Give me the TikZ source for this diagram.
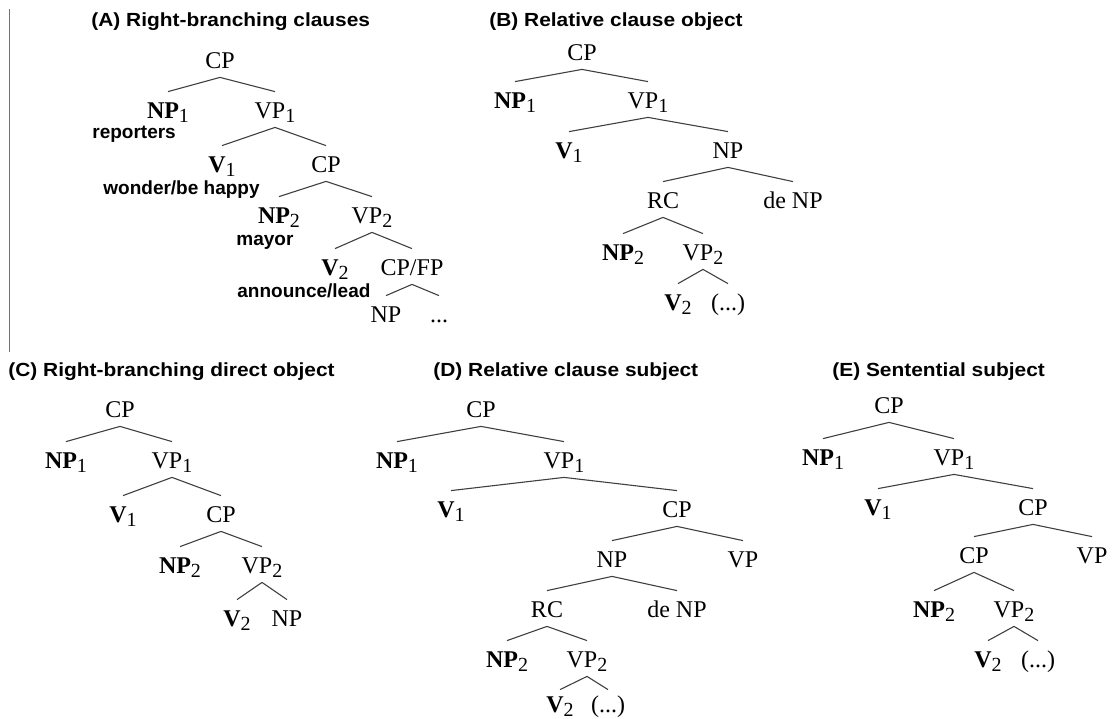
\documentclass[tikz,border=0pt]{standalone}
\usepackage{fontspec}
\setmainfont{Liberation Serif}
\newfontfamily\ttlfont[FakeStretch=1.1]{Liberation Sans}
\newfontfamily\glsfont{Liberation Sans}
\newcommand{\lsub}[1]{\raisebox{-2pt}{\fontsize{10}{10}\selectfont #1}}

\tikzset{
  cat/.style={anchor=base, font=\fontsize{12}{14}\selectfont, inner sep=2.5pt, text height=10.5pt, text depth=2pt},
  gloss/.style={anchor=base west, inner sep=0pt, font=\glsfont\bfseries\fontsize{9.5}{11}\selectfont},
  ttl/.style={anchor=base west, inner sep=0pt, font=\ttlfont\bfseries\fontsize{9.5}{11}\selectfont},
  branch/.style={draw=black!75, line width=0.55pt}
}

\begin{document}
\begin{tikzpicture}[x=0.5pt, y=-0.5pt]

 \useasboundingbox (0,0) rectangle (1114,718);

 %%%  titles
 \node [ttl] (ta) at (91,26) {(A) Right-branching clauses};
 \node [ttl] (tb) at (489,26) {(B) Relative clause object};
 \node [ttl] (tc) at (8,376) {(C) Right-branching direct object};
 \node [ttl] (td) at (433,376) {(D) Relative clause subject};
 \node [ttl] (te) at (832,376) {(E) Sentential subject};

 % rule at the left of panel A
 \coordinate (rtop) at (9.5,9);
 \coordinate (rbot) at (9.5,352);
 \draw [black!55, line width=0.6pt] (rtop) to (rbot);

 %%%  panel A
 \node [cat] (acp) at (220,68) {CP};
 \node [cat] (anp1) at (168,118) {\textbf{NP}\lsub{1}};
 \node [cat] (avp1) at (275,118) {VP\lsub{1}};
 \node [cat] (av1) at (222,172) {\textbf{V}\lsub{1}};
 \node [cat] (acp2) at (326,172) {CP};
 \node [cat] (anp2) at (279,223) {\textbf{NP}\lsub{2}};
 \node [cat] (avp2) at (372,223) {VP\lsub{2}};
 \node [cat] (av2) at (335,275) {\textbf{V}\lsub{2}};
 \node [cat] (acpfp) at (412,275) {CP/FP};
 \node [cat] (anp3) at (386,322) {NP};
 \node [cat] (adots) at (439,322) {...};

 % glosses
 \node [gloss] (greporters) at (92,138) {reporters};
 \node [gloss] (gwonder) at (103,194) {wonder/be happy};
 \node [gloss] (gmayor) at (236,245) {mayor};
 \node [gloss] (gannounce) at (237,297) {announce/lead};

 \draw [branch] (acp.south) to (anp1.north);
 \draw [branch] (acp.south) to (avp1.north);
 \draw [branch] (avp1.south) to (av1.north);
 \draw [branch] (avp1.south) to (acp2.north);
 \draw [branch] (acp2.south) to (anp2.north);
 \draw [branch] (acp2.south) to (avp2.north);
 \draw [branch] (avp2.south) to (av2.north);
 \draw [branch] (avp2.south) to (acpfp.north);
 \draw [branch] (acpfp.south) to (anp3.north);
 \draw [branch] (acpfp.south) to (adots.north);

 %%%  panel B
 \node [cat] (bcp) at (582,60) {CP};
 \node [cat] (bnp1) at (515,108) {\textbf{NP}\lsub{1}};
 \node [cat] (bvp1) at (648,108) {VP\lsub{1}};
 \node [cat] (bv1) at (569,158) {\textbf{V}\lsub{1}};
 \node [cat] (bnp) at (728,158) {NP};
 \node [cat] (brc) at (663,208) {RC};
 \node [cat] (bdenp) at (793,208) {de NP};
 \node [cat] (bnp2) at (623,260) {\textbf{NP}\lsub{2}};
 \node [cat] (bvp2) at (703,260) {VP\lsub{2}};
 \node [cat] (bv2) at (678,310) {\textbf{V}\lsub{2}};
 \node [cat] (bdots) at (728,310) {(...)};

 \draw [branch] (bcp.south) to (bnp1.north);
 \draw [branch] (bcp.south) to (bvp1.north);
 \draw [branch] (bvp1.south) to (bv1.north);
 \draw [branch] (bvp1.south) to (bnp.north);
 \draw [branch] (bnp.south) to (brc.north);
 \draw [branch] (bnp.south) to (bdenp.north);
 \draw [branch] (brc.south) to (bnp2.north);
 \draw [branch] (brc.south) to (bvp2.north);
 \draw [branch] (bvp2.south) to (bv2.north);
 \draw [branch] (bvp2.south) to (bdots.north);

 %%%  panel C
 \node [cat] (ccp) at (120,417) {CP};
 \node [cat] (cnp1) at (66,468) {\textbf{NP}\lsub{1}};
 \node [cat] (cvp1) at (172,468) {VP\lsub{1}};
 \node [cat] (cv1) at (123,522) {\textbf{V}\lsub{1}};
 \node [cat] (ccp2) at (221,522) {CP};
 \node [cat] (cnp2) at (180,573) {\textbf{NP}\lsub{2}};
 \node [cat] (cvp2) at (262,573) {VP\lsub{2}};
 \node [cat] (cv2) at (237,626) {\textbf{V}\lsub{2}};
 \node [cat] (cnp3) at (287,626) {NP};

 \draw [branch] (ccp.south) to (cnp1.north);
 \draw [branch] (ccp.south) to (cvp1.north);
 \draw [branch] (cvp1.south) to (cv1.north);
 \draw [branch] (cvp1.south) to (ccp2.north);
 \draw [branch] (ccp2.south) to (cnp2.north);
 \draw [branch] (ccp2.south) to (cvp2.north);
 \draw [branch] (cvp2.south) to (cv2.north);
 \draw [branch] (cvp2.south) to (cnp3.north);

 %%%  panel D
 \node [cat] (dcp) at (481,417) {CP};
 \node [cat] (dnp1) at (397,468) {\textbf{NP}\lsub{1}};
 \node [cat] (dvp1) at (564,468) {VP\lsub{1}};
 \node [cat] (dv1) at (451,517) {\textbf{V}\lsub{1}};
 \node [cat] (dcp2) at (677,517) {CP};
 \node [cat] (dnp) at (612,567) {NP};
 \node [cat] (dvp) at (743,567) {VP};
 \node [cat] (drc) at (547,617) {RC};
 \node [cat] (ddenp) at (677,617) {de NP};
 \node [cat] (dnp2) at (507,667) {\textbf{NP}\lsub{2}};
 \node [cat] (dvp2) at (587,667) {VP\lsub{2}};
 \node [cat, text height=8.5pt] (dv2) at (560,712) {\textbf{V}\lsub{2}};
 \node [cat, text height=8.5pt] (ddots) at (608,712) {(...)};

 \draw [branch] (dcp.south) to (dnp1.north);
 \draw [branch] (dcp.south) to (dvp1.north);
 \draw [branch] (dvp1.south) to (dv1.north);
 \draw [branch] (dvp1.south) to (dcp2.north);
 \draw [branch] (dcp2.south) to (dnp.north);
 \draw [branch] (dcp2.south) to (dvp.north);
 \draw [branch] (dnp.south) to (drc.north);
 \draw [branch] (dnp.south) to (ddenp.north);
 \draw [branch] (drc.south) to (dnp2.north);
 \draw [branch] (drc.south) to (dvp2.north);
 \draw [branch] (dvp2.south) to (dv2.north);
 \draw [branch] (dvp2.south) to (ddots.north);

 %%%  panel E
 \node [cat] (ecp) at (889,413) {CP};
 \node [cat] (enp1) at (823,465) {\textbf{NP}\lsub{1}};
 \node [cat] (evp1) at (954,465) {VP\lsub{1}};
 \node [cat] (ev1) at (878,515) {\textbf{V}\lsub{1}};
 \node [cat] (ecp2) at (1033,515) {CP};
 \node [cat] (ecp3) at (974,563) {CP};
 \node [cat] (evp) at (1092,563) {VP};
 \node [cat] (enp2) at (934,617) {\textbf{NP}\lsub{2}};
 \node [cat] (evp2) at (1014,617) {VP\lsub{2}};
 \node [cat] (ev2) at (988,667) {\textbf{V}\lsub{2}};
 \node [cat] (edots) at (1038,667) {(...)};

 \draw [branch] (ecp.south) to (enp1.north);
 \draw [branch] (ecp.south) to (evp1.north);
 \draw [branch] (evp1.south) to (ev1.north);
 \draw [branch] (evp1.south) to (ecp2.north);
 \draw [branch] (ecp2.south) to (ecp3.north);
 \draw [branch] (ecp2.south) to (evp.north);
 \draw [branch] (ecp3.south) to (enp2.north);
 \draw [branch] (ecp3.south) to (evp2.north);
 \draw [branch] (evp2.south) to (ev2.north);
 \draw [branch] (evp2.south) to (edots.north);

\end{tikzpicture}
\end{document}
